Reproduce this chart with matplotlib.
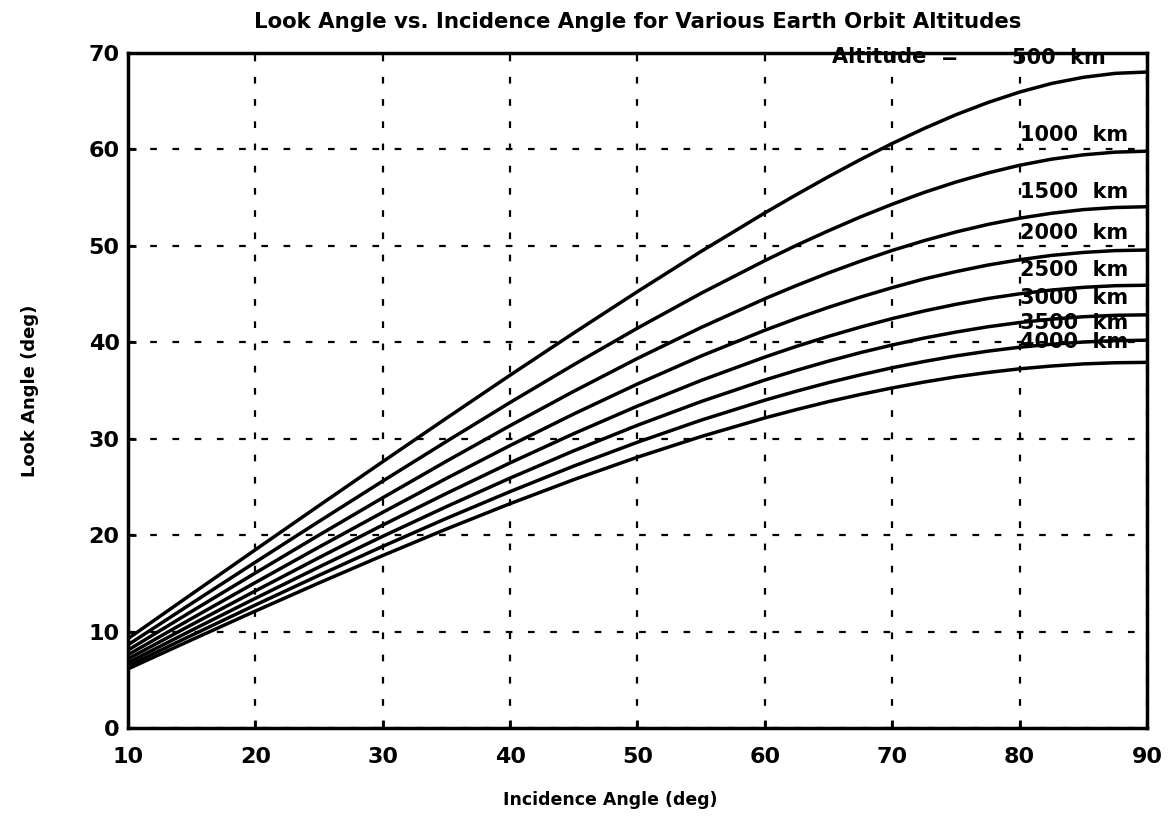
import matplotlib
matplotlib.use("Agg")
import matplotlib.pyplot as plt

plt.rcParams['font.family'] = 'DejaVu Sans'
plt.rcParams['font.weight'] = 'bold'

# incidence angle (deg)
incidence = [10, 15, 20, 25, 30, 35, 40, 45, 50, 55, 60, 62.5, 65, 67.5,
             70, 72.5, 75, 77.5, 80, 82.5, 85, 87.5, 90]

# look angle (deg), one list per altitude
look_500 = [9.27, 13.89, 18.49, 23.07, 27.62, 32.13, 36.59, 40.97, 45.26,
            49.43, 53.42, 55.33, 57.18, 58.95, 60.62, 62.17, 63.60, 64.86,
            65.95, 66.84, 67.48, 67.89, 68.03]
look_1000 = [8.63, 12.93, 17.20, 21.43, 25.61, 29.72, 33.76, 37.68, 41.47,
             45.09, 48.47, 50.07, 51.57, 53.00, 54.32, 55.54, 56.62, 57.56,
             58.36, 58.99, 59.44, 59.72, 59.82]
look_1500 = [8.08, 12.10, 16.08, 20.01, 23.88, 27.67, 31.36, 34.92, 38.33,
             41.54, 44.52, 45.90, 47.20, 48.41, 49.53, 50.54, 51.44, 52.22,
             52.87, 53.38, 53.76, 53.98, 54.06]
look_2000 = [7.60, 11.36, 15.09, 18.77, 22.37, 25.89, 29.30, 32.57, 35.68,
             38.58, 41.25, 42.48, 43.63, 44.69, 45.67, 46.57, 47.33, 48.01,
             48.56, 49.01, 49.32, 49.51, 49.57]
look_2500 = [7.17, 10.72, 14.22, 17.67, 21.05, 24.33, 27.50, 30.53, 33.39,
             36.05, 38.47, 39.59, 40.62, 41.58, 42.46, 43.25, 43.94, 44.54,
             45.03, 45.42, 45.70, 45.87, 45.92]
look_3000 = [6.78, 10.14, 13.45, 16.70, 19.88, 22.96, 25.92, 28.75, 31.40,
             33.86, 36.09, 37.10, 38.05, 38.93, 39.72, 40.44, 41.06, 41.61,
             42.05, 42.40, 42.65, 42.80, 42.85]
look_3500 = [6.44, 9.62, 12.76, 15.84, 18.84, 21.74, 24.52, 27.17, 29.64,
             31.93, 34.00, 34.94, 35.82, 36.62, 37.36, 38.01, 38.59, 39.08,
             39.49, 39.80, 40.03, 40.17, 40.22]
look_4000 = [6.13, 9.15, 12.13, 15.05, 17.89, 20.64, 23.27, 25.76, 28.09,
             30.23, 32.16, 33.03, 33.85, 34.59, 35.27, 35.88, 36.42, 36.87,
             37.25, 37.54, 37.76, 37.88, 37.92]

curves = [look_500, look_1000, look_1500, look_2000,
          look_2500, look_3000, look_3500, look_4000]
labels = ['500  km', '1000  km', '1500  km', '2000  km',
          '2500  km', '3000  km', '3500  km', '4000  km']
label_x = [79.4, 80, 80, 80, 80, 80, 80, 80]
label_y = [69.5, 61.5, 55.6, 51.3, 47.5, 44.6, 42.0, 40.0]

fig = plt.figure(figsize=(11.7, 8.31), dpi=100)
ax = fig.add_axes([0.1094, 0.1239, 0.8709, 0.8123])

for y in curves:
    ax.plot(incidence, y, color='black', lw=2.5, solid_capstyle='butt')

for lab, lx, ly in zip(labels, label_x, label_y):
    ax.text(lx, ly, lab, fontsize=15, fontweight='bold', va='center', ha='left')
ax.text(65.3, 69.6, 'Altitude  =', fontsize=15, fontweight='bold', va='center', ha='left')

ax.set_xlim(10, 90)
ax.set_ylim(0, 70)
ax.set_xticks(range(10, 91, 10))
ax.set_yticks(range(0, 71, 10))
ax.grid(True, color='black', linestyle=(0, (3, 7)), lw=1.6)
ax.tick_params(direction='in', length=6, width=2, labelsize=16, pad=6)
ax.tick_params(axis='x', pad=14)
for s in ax.spines.values():
    s.set_linewidth(2.5)

ax.set_title('Look Angle vs. Incidence Angle for Various Earth Orbit Altitudes',
             fontsize=15.3, fontweight='bold', pad=18)
ax.set_xlabel('Incidence Angle (deg)', fontsize=12.5, fontweight='bold')
ax.xaxis.set_label_coords(0.473, -0.107)
ax.xaxis.label.set_va('center')
ax.set_ylabel('Look Angle (deg)', fontsize=13, fontweight='bold', labelpad=36)

fig.savefig('out.png', dpi=100)
